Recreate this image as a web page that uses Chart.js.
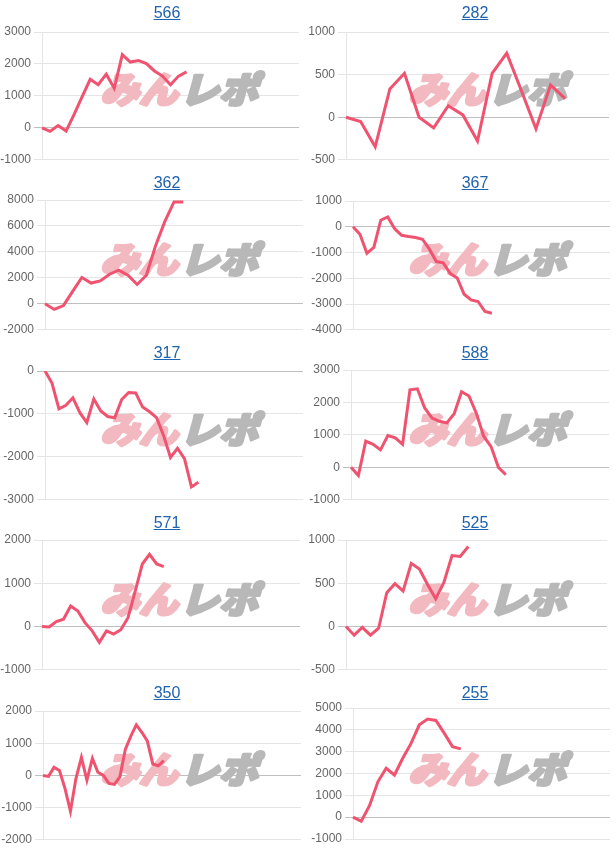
<!DOCTYPE html>
<html>
<head>
<meta charset="utf-8">
<script src="https://cdn.jsdelivr.net/npm/chart.js@4.4.1/dist/chart.umd.min.js"></script>
<style>
  body { margin: 0; background: #fff; }
  #grid { position: relative; width: 616px; height: 850px; }
  .cell { position: absolute; width: 308px; height: 170px; }
  .cell canvas { position: absolute; left: 0; top: 0; }
  .cell .title { position: absolute; left: 0; top: 3px; width: 334px; text-align: center;
    font: 16px/20px "Liberation Sans", Arial, sans-serif; z-index: 2; }
  .cell .title a { color: #1f62ad; text-decoration: underline; }
</style>
</head>
<body>
<div id="grid"></div>
<script>
// machine numbers shown above each graph
const titles = ["566", "282", "362", "367", "317", "588", "571", "525", "350", "255"];

// 差枚 values
const m566 = [0, -110, 70, -100, 420, 980, 1520, 1350, 1680, 1240, 2290, 2060, 2110, 2010, 1780, 1620, 1350, 1620, 1750];
const m282 = [0, -50, -347, 332, 515, 0, -126, 134, 27, -279, 515, 752, 313, -137, 378, 218];
const m362 = [0, -430, -130, 960, 2030, 1600, 1770, 2280, 2600, 2200, 1490, 2200, 4480, 6330, 7850, 7850];
const m367 = [0, -290, -1030, -800, 255, 380, -75, -330, -380, -420, -485, -870, -1350, -1400, -1820, -1990, -2620, -2840, -2900, -3290, -3360];
const m317 = [0, -280, -880, -800, -625, -970, -1200, -650, -930, -1060, -1090, -665, -500, -510, -840, -950, -1085, -1500, -2015, -1800, -2040, -2700, -2590];
const m588 = [0, -250, 810, 710, 540, 980, 910, 710, 2390, 2420, 1830, 1520, 1420, 1370, 1650, 2330, 2200, 1670, 960, 640, 0, -230];
const m571 = [0, -10, 115, 170, 475, 360, 90, -100, -365, -100, -175, -75, 205, 815, 1445, 1670, 1445, 1385];
const m525 = [0, -100, -10, -100, -20, 390, 495, 410, 730, 665, 485, 320, 510, 820, 810, 925];
const m350 = [0, -30, 250, 150, -400, -1110, -100, 560, -150, 530, 100, 0, -250, -280, -50, 810, 1220, 1570, 1340, 1070, 355, 300, 460];
const m255 = [0, -185, 540, 1620, 2240, 1930, 2700, 3380, 4230, 4490, 4430, 3850, 3230, 3130];
const series = [m566, m282, m362, m367, m317, m588, m571, m525, m350, m255];

// how many x slots each graph has (the line only fills part of them)
const slotCounts = [33, 19, 29, 38, 38, 36, 37, 33, 48, 32];

// y axis tick range per graph
const yMins  = [-1000, -500, -2000, -4000, -3000, -1000, -1000, -500, -2000, -1000];
const yMaxs  = [3000, 1000, 8000, 1000, 0, 3000, 2000, 1000, 2000, 5000];
const ySteps = [1000, 500, 2000, 1000, 1000, 1000, 1000, 500, 1000, 1000];

// plot area inside each 308x170 cell: left, top, right, bottom
const plotBoxes = [
  [42, 32, 299, 162], [38, 32, 301, 163],
  [45, 30, 303, 161], [45, 31, 302, 162],
  [45, 31, 303, 162], [43, 30, 301, 162],
  [42, 30, 300, 162], [38, 30, 299, 162],
  [43, 31, 301, 162], [45, 28, 302, 159]
];

// faint site logo behind the line
const watermark = {
  id: 'watermark',
  beforeDatasetsDraw(chart) {
    const ctx = chart.ctx;
    ctx.save();
    ctx.translate(104, 89);
    ctx.transform(1.08, 0, -0.28, 1, 0, 0);
    ctx.font = '900 36px "Noto Sans CJK JP"';
    ctx.textBaseline = 'middle';
    ctx.lineJoin = 'round';
    ctx.lineWidth = 3;
    ctx.fillStyle = ctx.strokeStyle = 'rgb(242, 186, 192)';
    ctx.strokeText('みん', 0, 0);
    ctx.fillText('みん', 0, 0);
    ctx.fillStyle = ctx.strokeStyle = 'rgb(184, 184, 184)';
    ctx.strokeText('レポ', 74, 0);
    ctx.fillText('レポ', 74, 0);
    ctx.restore();
  }
};

const grid = document.getElementById('grid');

titles.forEach((name, i) => {
  const cell = document.createElement('div');
  cell.className = 'cell';
  cell.style.left = (i % 2) * 308 + 'px';
  cell.style.top = Math.floor(i / 2) * 170 + 'px';

  const title = document.createElement('div');
  title.className = 'title';
  const link = document.createElement('a');
  link.href = '#';
  link.textContent = name;
  title.appendChild(link);
  cell.appendChild(title);

  const canvas = document.createElement('canvas');
  canvas.width = 308;
  canvas.height = 170;
  cell.appendChild(canvas);
  grid.appendChild(cell);

  const [left, top, right, bottom] = plotBoxes[i];
  const labels = Array.from({ length: slotCounts[i] }, (_, k) => String(k));

  new Chart(canvas, {
    type: 'line',
    data: {
      labels: labels,
      datasets: [{
        data: series[i],
        borderColor: 'rgb(240, 83, 112)',
        borderWidth: 3,
        pointRadius: 0,
        tension: 0,
        fill: false
      }]
    },
    options: {
      responsive: false,
      animation: false,
      layout: { padding: { top: top, bottom: 170 - bottom, left: 0, right: 308 - right } },
      plugins: { legend: { display: false }, tooltip: { enabled: false } },
      scales: {
        x: { display: false },
        y: {
          min: yMins[i],
          max: yMaxs[i],
          afterFit: (scale) => { scale.width = left; },
          ticks: {
            stepSize: ySteps[i],
            color: '#666',
            padding: 3,
            font: { family: '"Liberation Sans", Arial, sans-serif', size: 12 },
            callback: (v) => String(v)
          },
          grid: {
            tickLength: 8,
            color: (c) => (c.tick && c.tick.value === 0) ? 'rgba(0,0,0,0.25)' : 'rgba(0,0,0,0.1)'
          },
          border: { color: 'rgba(0,0,0,0.1)' }
        }
      }
    },
    plugins: [watermark]
  });
});
</script>
</body>
</html>
